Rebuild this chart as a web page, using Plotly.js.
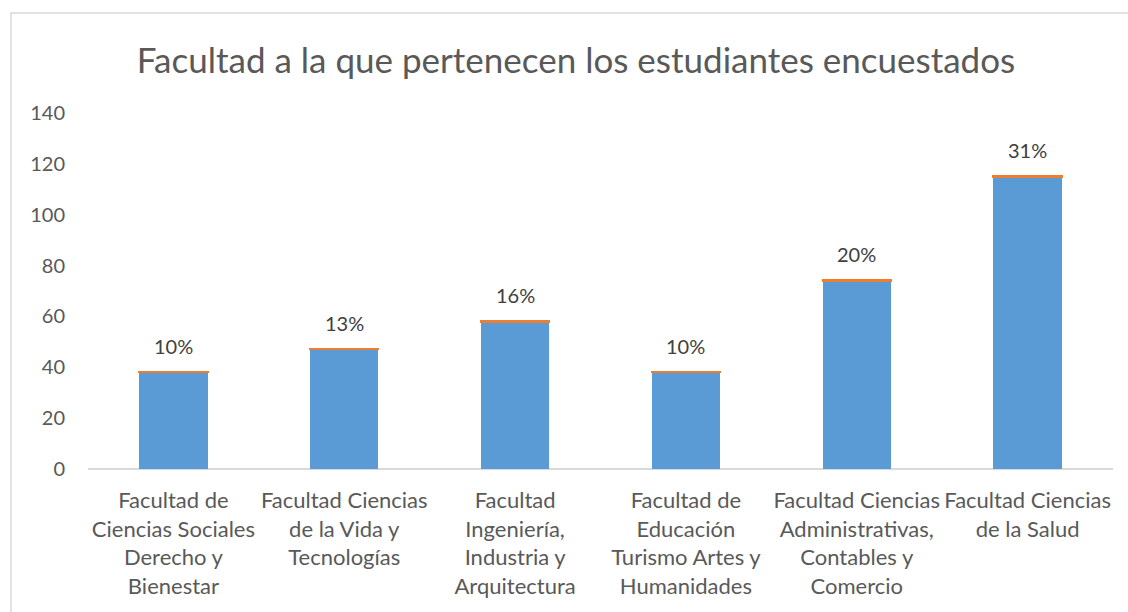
<!DOCTYPE html>
<html>
<head>
<meta charset="utf-8">
<script src="https://cdn.plot.ly/plotly-3.0.1.min.js"></script>
<style>
html,body{margin:0;padding:0;background:#fff;}
#chart{width:1128px;height:612px;}
</style>
</head>
<body>
<div id="chart"></div>
<script>
const categories = [
  "Facultad de<br>Ciencias Sociales<br>Derecho y<br>Bienestar",
  "Facultad Ciencias<br>de la Vida y<br>Tecnologías",
  "Facultad<br>Ingeniería,<br>Industria y<br>Arquitectura",
  "Facultad de<br>Educación<br>Turismo Artes y<br>Humanidades",
  "Facultad Ciencias<br>Administrativas,<br>Contables y<br>Comercio",
  "Facultad Ciencias<br>de la Salud"
];
const counts = [38, 47, 58, 38, 74, 115];
const shares = [0.10, 0.13, 0.16, 0.10, 0.20, 0.31];
const shareLabels = ["10%", "13%", "16%", "10%", "20%", "31%"];

const font = "Lato, 'Open Sans', sans-serif";
const grey = "#595959";

const traces = [
  {
    type: "bar", x: categories, y: counts,
    marker: {color: "#5b9bd5"}, hoverinfo: "y"
  },
  {
    type: "bar", x: categories, y: shares,
    marker: {color: "#ed7d31", line: {color: "#ed7d31", width: 2}},
    hoverinfo: "skip"
  }
];

const annotations = categories.map((c, i) => ({
  x: c, y: counts[i] + shares[i], xref: "x", yref: "y",
  text: shareLabels[i], showarrow: false,
  yanchor: "bottom", yshift: 12,
  font: {family: font, size: 20, color: "#404040"}
}));

const layout = {
  width: 1128, height: 612,
  margin: {l: 88, r: 15, t: 113, b: 143},
  paper_bgcolor: "#fff", plot_bgcolor: "#fff",
  barmode: "stack", bargap: 0.6, showlegend: false,
  title: {
    text: "Facultad a la que pertenecen los estudiantes encuestados",
    font: {family: font, size: 35, color: grey},
    x: 576/1128, xref: "container", xanchor: "center", y: 0.9, yanchor: "middle"
  },
  xaxis: {
    tickfont: {family: font, size: 22, color: grey},
    showline: false, showgrid: false, zeroline: false,
    ticks: "", ticklabelstandoff: 16, fixedrange: true
  },
  yaxis: {
    range: [0, 140], dtick: 20, tick0: 0,
    tickfont: {family: font, size: 20, color: grey},
    showgrid: false, zeroline: true, zerolinecolor: "#d9d9d9", zerolinewidth: 2,
    showline: false, ticks: "", ticklabelstandoff: 22, fixedrange: true
  },
  annotations: annotations,
  shapes: [{
    type: "rect", xref: "paper", yref: "paper",
    x0: -77/1025, x1: 1.05, y0: -0.6, y1: 1 + 100/356,
    line: {color: "#d9d9d9", width: 1.5}, fillcolor: "rgba(0,0,0,0)", layer: "below"
  }]
};

Plotly.newPlot("chart", traces, layout, {displayModeBar: false, staticPlot: true});
</script>
</body>
</html>
